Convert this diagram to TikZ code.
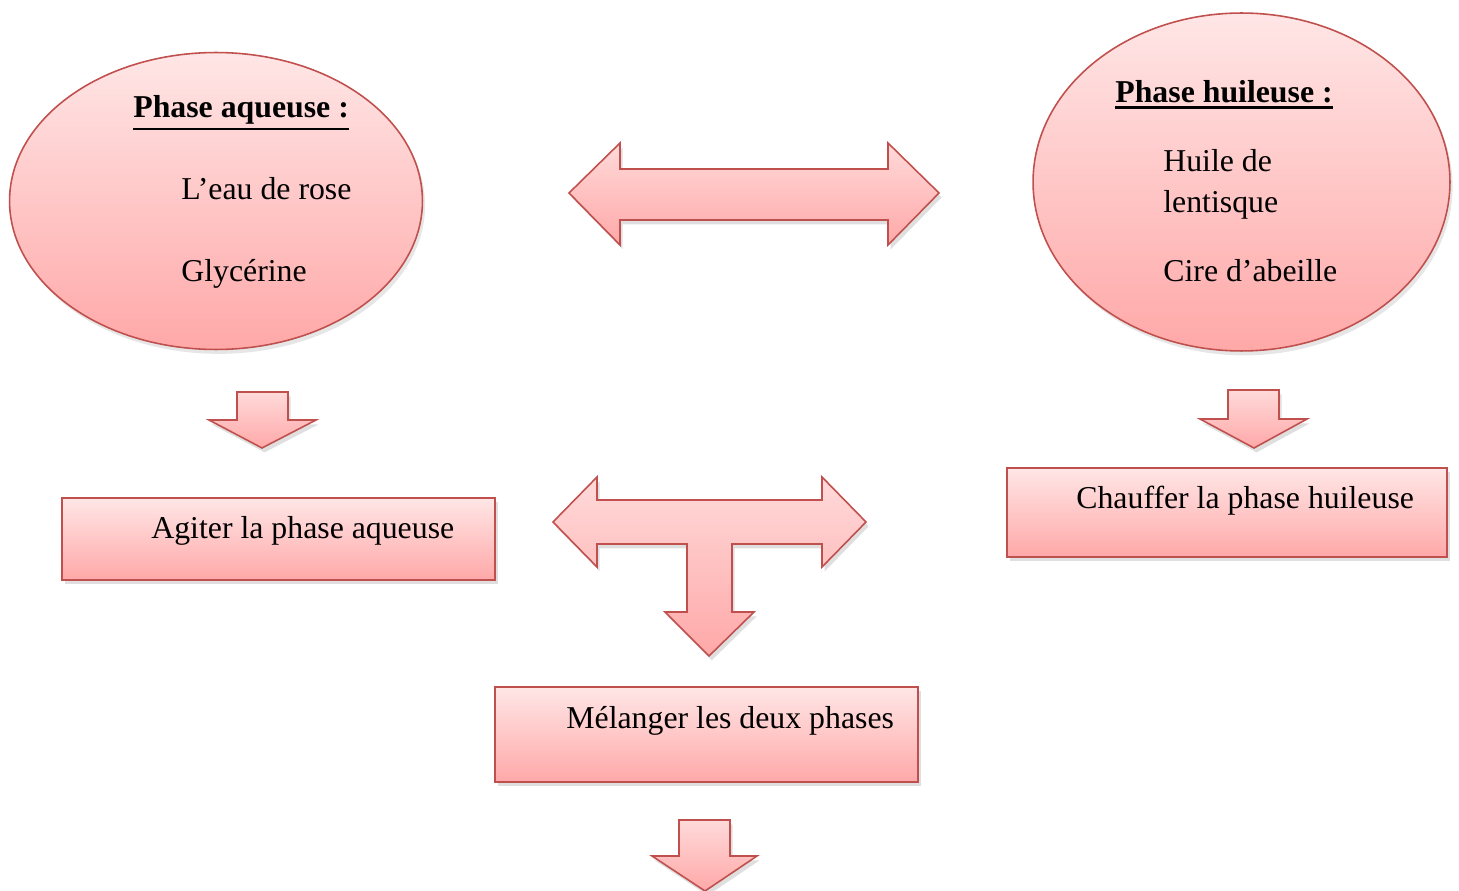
\documentclass[tikz,border=0pt]{standalone}
\usepackage{fontspec}
\setmainfont{Liberation Serif}
\usepackage{tikz}
\usetikzlibrary{shapes.geometric}
\usetikzlibrary{shadows}
\definecolor{rim}{HTML}{C0504D}
\definecolor{pinktop}{HTML}{FFE6E6}
\definecolor{pinkbot}{HTML}{FFA8A8}
\newcommand{\ulhead}[1]{\vtop{\hbox{\textbf{#1}}\kern1.6pt\hrule height 1.4pt}}
\begin{document}
\begin{tikzpicture}[x=0.02cm,y=-0.02cm,
  every node/.style={font=\fontsize{18.1}{22}\selectfont},
  phase/.style={ellipse,draw=rim,line width=0.9pt,top color=pinktop,bottom color=pinkbot,inner sep=0pt,drop shadow={shadow xshift=1.5pt,shadow yshift=-2.5pt,opacity=0.2}},
  stepbox/.style={rectangle,draw=rim,line width=0.9pt,top color=pinktop,bottom color=pinkbot,inner sep=0pt,drop shadow={shadow xshift=1.5pt,shadow yshift=-2.5pt,opacity=0.25}},
  bigarrow/.style={draw=rim,line width=0.9pt,top color=pinktop!80!pinkbot,bottom color=pinkbot,line join=miter,drop shadow={shadow xshift=1.5pt,shadow yshift=-2.5pt,opacity=0.25}},
  txt/.style={anchor=base west,inner sep=0pt}]
\useasboundingbox (0,0) rectangle (1459,891);
\node[phase,minimum width=8.26cm,minimum height=5.94cm] (aq) at (216,201) {};
\node[phase,minimum width=8.34cm,minimum height=6.76cm] (hu) at (1241.5,182) {};
\node[txt] (aqt) at (133,118) {\ulhead{Phase aqueuse :}};
\node[txt] (rose) at (181,200) {L’eau de rose};
\node[txt] (gly) at (181,282) {Glycérine};
\node[txt] (hut) at (1115,103) {\ulhead{Phase huileuse :}};
\node[txt] (huile) at (1163,172) {Huile de};
\node[txt] (lent) at (1163,213) {lentisque};
\node[txt] (cire) at (1163,282) {Cire d’abeille};
\node[stepbox,minimum width=8.66cm,minimum height=1.64cm] (agiter) at (278.5,539) {};
\node[stepbox,minimum width=8.8cm,minimum height=1.78cm] (chauffer) at (1227,512.5) {};
\node[stepbox,minimum width=8.46cm,minimum height=1.9cm] (melanger) at (706.5,734.5) {};
\node[txt] (agt) at (151,538) {Agiter la phase aqueuse};
\node[txt] (cht) at (1076,508) {Chauffer la phase huileuse};
\node[txt] (met) at (566,728) {Mélanger les deux phases};
\path[bigarrow] (569,193) -- (620,143) -- (620,169) -- (888,169) -- (888,143) -- (939,193) -- (888,245) -- (888,220) -- (620,220) -- (620,245) -- cycle;
\path[bigarrow] (237,392) -- (288,392) -- (288,420) -- (316,420) -- (262,448) -- (209,420) -- (237,420) -- cycle;
\path[bigarrow] (1228,390) -- (1279,390) -- (1279,419) -- (1307,419) -- (1254,448) -- (1200,419) -- (1228,419) -- cycle;
\path[bigarrow] (553,522) -- (597,477) -- (597,500) -- (822,500) -- (822,477) -- (866,522) -- (822,567) -- (822,544) -- (732,544) -- (732,612) -- (754,612) -- (709,656) -- (665,612) -- (687,612) -- (687,544) -- (597,544) -- (597,567) -- cycle;
\path[bigarrow] (679,820) -- (730,820) -- (730,856) -- (757,856) -- (705,891) -- (652,856) -- (679,856) -- cycle;
\end{tikzpicture}
\end{document}
